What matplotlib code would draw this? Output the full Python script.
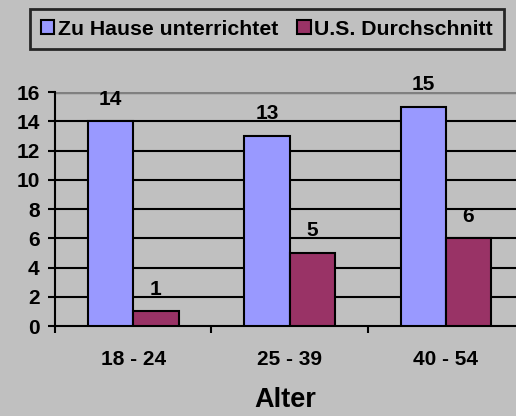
import matplotlib.pyplot as plt
import numpy as np

plt.rcParams['font.family'] = ['Liberation Sans', 'DejaVu Sans']
plt.rcParams['font.weight'] = 'bold'

categories = ['18 - 24', '25 - 39', '40 - 54']
zu_hause = [14, 13, 15]
us_schnitt = [1, 5, 6]
series_names = ['Zu Hause unterrichtet', 'U.S. Durchschnitt']

bg = '#C0C0C0'
fig = plt.figure(figsize=(5.16, 4.16), dpi=100, facecolor=bg)
ax = fig.add_axes([0.1066, 0.2163, 0.909, 0.5625], facecolor=bg)

x = np.arange(len(categories))
w = 0.29
b1 = ax.bar(x - w / 2, zu_hause, w, color='#9999FF', edgecolor='black', lw=1.5,
            label=series_names[0], zorder=3)
b2 = ax.bar(x + w / 2, us_schnitt, w, color='#993366', edgecolor='black', lw=1.5,
            label=series_names[1], zorder=3)

for bars in (b1, b2):
    for r in bars:
        ax.annotate(f'{int(r.get_height())}',
                    (r.get_x() + r.get_width() / 2, r.get_height()),
                    xytext=(0, 12), textcoords='offset points',
                    ha='center', va='baseline', fontsize=15, fontweight='bold')

ax.set_xlim(-0.5, 2.5)
ax.set_ylim(0, 16)
ax.set_yticks(range(0, 17, 2))
ax.set_xticks([-0.5, 0.5, 1.5, 2.5], minor=False)
ax.set_xticklabels([])
ax.set_xticks(x, minor=True)
ax.set_xticklabels(categories, minor=True)
ax.tick_params(axis='x', which='minor', length=0, pad=17, labelsize=15)
ax.tick_params(axis='x', which='major', length=5, width=1.5, direction='out')
ax.tick_params(axis='y', length=5, width=1.5, direction='out', labelsize=15, pad=6)

for yv in range(2, 16, 2):
    ax.axhline(yv, color='black', lw=1.5, zorder=1)
ax.axhline(16, color='#808080', lw=2.5, zorder=1)

for s in ['top', 'right']:
    ax.spines[s].set_visible(False)
ax.spines['left'].set_linewidth(1.5)
ax.spines['bottom'].set_linewidth(1.5)

fig.text(0.552, 0.022, 'Alter', ha='center', va='baseline', fontsize=19.5, fontweight='bold')

leg = fig.legend(handles=[b1, b2], loc='center', bbox_to_anchor=(0.517, 0.930),
                 ncol=2, frameon=True, fontsize=15.3, handlelength=0.65, handleheight=0.65,
                 handletextpad=0.15, columnspacing=0.9, borderpad=0.5, borderaxespad=0,
                 fancybox=False, edgecolor='black', facecolor=bg)
leg.get_frame().set_linewidth(2)

fig.savefig('out.png', dpi=100, facecolor=bg)
